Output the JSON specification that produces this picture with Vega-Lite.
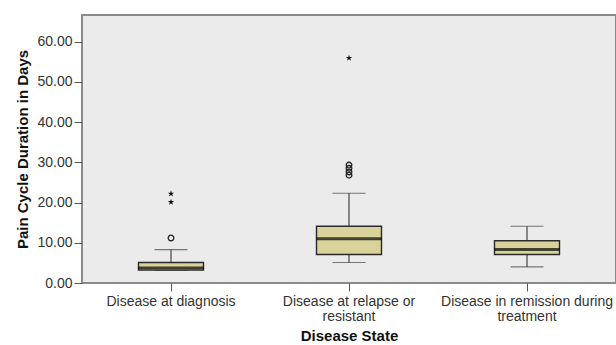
{
  "$schema": "https://vega.github.io/schema/vega-lite/v6.json",
  "width": 534,
  "height": 268,
  "autosize": {"type": "none"},
  "padding": {"left": 82, "top": 15, "right": 0, "bottom": 62},
  "background": "white",
  "config": {
    "font": "Liberation Sans",
    "view": {"fill": "#ebebeb", "stroke": "#8a8a8a", "strokeWidth": 2},
    "axis": {"labelFont": "Liberation Sans", "titleFont": "Liberation Sans", "labelColor": "#333333", "titleColor": "#111111", "tickColor": "#555555", "domain": false, "grid": false}
  },
  "datasets": {
    "stats": [
      {"state": "Disease at diagnosis", "lower": 3.2, "q1": 3.2, "median": 3.7, "q3": 5.1, "upper": 8.3},
      {"state": "Disease at relapse or resistant", "lower": 5.1, "q1": 7.1, "median": 11.0, "q3": 14.1, "upper": 22.3},
      {"state": "Disease in remission during treatment", "lower": 4.0, "q1": 7.1, "median": 8.3, "q3": 10.5, "upper": 14.1}
    ],
    "outliers": [
      {"state": "Disease at diagnosis", "value": 11.2, "kind": "outlier"},
      {"state": "Disease at diagnosis", "value": 20.1, "kind": "extreme"},
      {"state": "Disease at diagnosis", "value": 22.2, "kind": "extreme"},
      {"state": "Disease at relapse or resistant", "value": 26.8, "kind": "outlier"},
      {"state": "Disease at relapse or resistant", "value": 27.6, "kind": "outlier"},
      {"state": "Disease at relapse or resistant", "value": 28.5, "kind": "outlier"},
      {"state": "Disease at relapse or resistant", "value": 29.3, "kind": "outlier"},
      {"state": "Disease at relapse or resistant", "value": 55.9, "kind": "extreme"}
    ]
  },
  "encoding": {
    "x": {
      "field": "state",
      "type": "nominal",
      "sort": ["Disease at diagnosis", "Disease at relapse or resistant", "Disease in remission during treatment"],
      "scale": {"type": "band", "paddingInner": 0, "paddingOuter": 0},
      "axis": {
        "title": "Disease State",
        "labelAngle": 0,
        "labelFontSize": 14,
        "labelLineHeight": 15,
        "labelPadding": 3,
        "tickSize": 8,
        "titleFontSize": 15,
        "titleFontWeight": "bold",
        "titlePadding": 5,
        "labelExpr": "datum.value == 'Disease at relapse or resistant' ? ['Disease at relapse or', 'resistant'] : datum.value == 'Disease in remission during treatment' ? ['Disease in remission during', 'treatment'] : datum.value"
      }
    }
  },
  "layer": [
    {
      "data": {"name": "stats"},
      "mark": {"type": "rule", "color": "#444444", "strokeWidth": 1.2},
      "encoding": {
        "y": {"field": "lower", "type": "quantitative", "scale": {"domain": [0, 66.6], "nice": false, "zero": false},
          "axis": {"title": "Pain Cycle Duration in Days", "values": [0, 10, 20, 30, 40, 50, 60], "format": ".2f", "labelFontSize": 14, "tickSize": 8, "labelPadding": 2, "titleFontSize": 15, "titleFontWeight": "bold", "titlePadding": 6}},
        "y2": {"field": "q1"}
      }
    },
    {
      "data": {"name": "stats"},
      "mark": {"type": "rule", "color": "#444444", "strokeWidth": 1.2},
      "encoding": {
        "y": {"field": "q3", "type": "quantitative"},
        "y2": {"field": "upper"}
      }
    },
    {
      "data": {"name": "stats"},
      "mark": {"type": "tick", "color": "#444444", "size": 33, "thickness": 1.2},
      "encoding": {"y": {"field": "lower", "type": "quantitative"}}
    },
    {
      "data": {"name": "stats"},
      "mark": {"type": "tick", "color": "#444444", "size": 33, "thickness": 1.2},
      "encoding": {"y": {"field": "upper", "type": "quantitative"}}
    },
    {
      "data": {"name": "stats"},
      "mark": {"type": "bar", "width": 65, "fill": "#d9d29a", "stroke": "#2a2a2a", "strokeWidth": 1.4},
      "encoding": {
        "y": {"field": "q1", "type": "quantitative"},
        "y2": {"field": "q3"}
      }
    },
    {
      "data": {"name": "stats"},
      "mark": {"type": "tick", "color": "#000000", "size": 65, "thickness": 3},
      "encoding": {"y": {"field": "median", "type": "quantitative"}}
    },
    {
      "data": {"name": "outliers"},
      "transform": [{"filter": "datum.kind == 'outlier'"}],
      "mark": {"type": "point", "shape": "circle", "filled": false, "stroke": "#222222", "strokeWidth": 1.3, "size": 32, "opacity": 1},
      "encoding": {"y": {"field": "value", "type": "quantitative"}}
    },
    {
      "data": {"name": "outliers"},
      "transform": [{"filter": "datum.kind == 'extreme'"}],
      "mark": {"type": "point", "shape": "M0,-1L0.224,-0.309L0.951,-0.309L0.363,0.118L0.588,0.809L0,0.382L-0.588,0.809L-0.363,0.118L-0.951,-0.309L-0.224,-0.309Z", "filled": true, "fill": "#111111", "strokeWidth": 0, "size": 45, "opacity": 1},
      "encoding": {"y": {"field": "value", "type": "quantitative"}}
    }
  ]
}
